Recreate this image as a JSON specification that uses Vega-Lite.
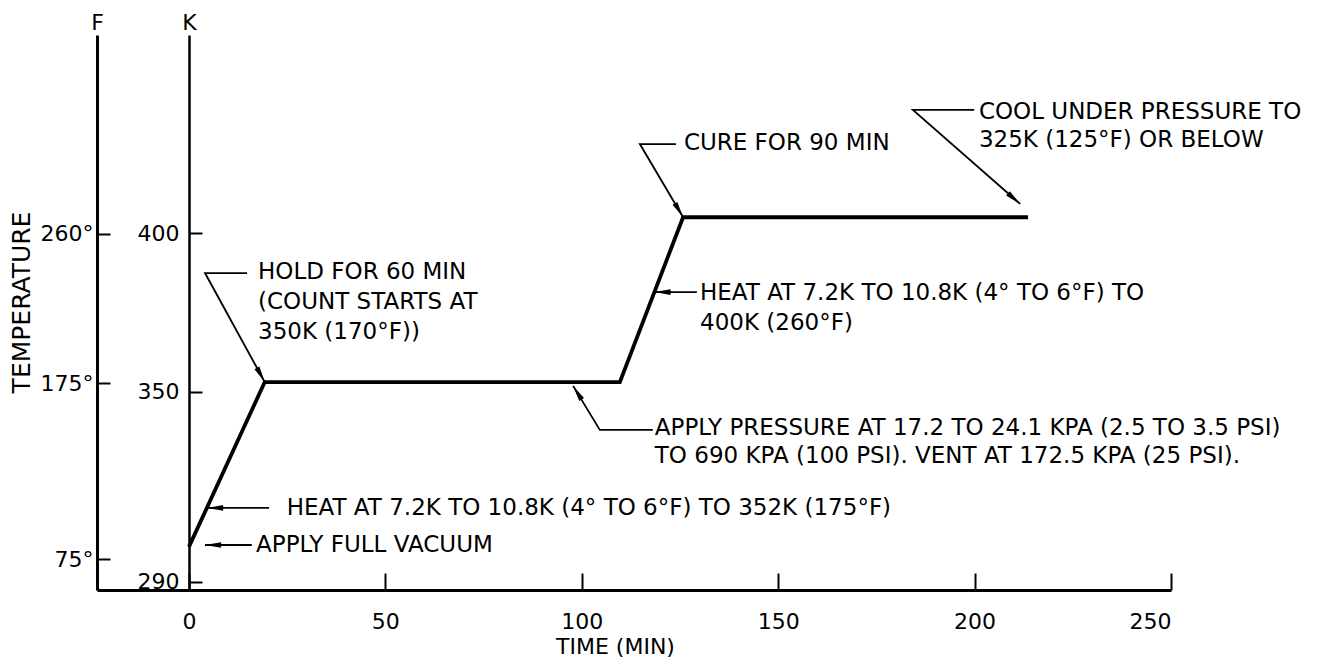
{
  "$schema": "https://vega.github.io/schema/vega-lite/v6.json",
  "width": 1074,
  "height": 555,
  "autosize": {"type": "none"},
  "padding": {"left": 97, "top": 35, "right": 168, "bottom": 68},
  "background": "white",
  "config": {
    "view": {"stroke": null},
    "font": "DejaVu Sans",
    "axis": {"grid": false, "domainColor": "black", "tickColor": "black", "labelColor": "black", "titleColor": "black", "labelFont": "DejaVu Sans", "titleFont": "DejaVu Sans", "titleFontWeight": "normal"}
  },
  "datasets": {
    "curve": [
      {"t": 0, "K": 301},
      {"t": 19.3, "K": 353},
      {"t": 109.7, "K": 353},
      {"t": 125.8, "K": 405},
      {"t": 213.6, "K": 405}
    ],
    "leaders": [
      {"id": "HOLD", "o": 1, "t": 14.8, "K": 387.4},
      {"id": "HOLD", "o": 2, "t": 4.1, "K": 387.4},
      {"id": "HOLD", "o": 3, "t": 19.3, "K": 353},
      {"id": "CURE", "o": 1, "t": 124.0, "K": 428.1},
      {"id": "CURE", "o": 2, "t": 114.8, "K": 428.1},
      {"id": "CURE", "o": 3, "t": 125.8, "K": 405},
      {"id": "COOL", "o": 1, "t": 199.9, "K": 438.9},
      {"id": "COOL", "o": 2, "t": 184.3, "K": 438.9},
      {"id": "COOL", "o": 3, "t": 211.6, "K": 409.2},
      {"id": "HEATU", "o": 1, "t": 129.3, "K": 381.4},
      {"id": "HEATU", "o": 2, "t": 118.5, "K": 381.4},
      {"id": "PRESS", "o": 1, "t": 118.1, "K": 337.9},
      {"id": "PRESS", "o": 2, "t": 104.6, "K": 337.9},
      {"id": "PRESS", "o": 3, "t": 97.8, "K": 351.8},
      {"id": "HEATL", "o": 1, "t": 20.4, "K": 313.3},
      {"id": "HEATL", "o": 2, "t": 4.6, "K": 313.3},
      {"id": "VAC", "o": 1, "t": 16.0, "K": 301.6},
      {"id": "VAC", "o": 2, "t": 4.1, "K": 301.6}
    ],
    "arrows": [
      {"id": "HOLD", "t": 19.3, "K": 353},
      {"id": "CURE", "t": 125.8, "K": 405},
      {"id": "COOL", "t": 211.6, "K": 409.2},
      {"id": "HEATU", "t": 118.5, "K": 381.4},
      {"id": "PRESS", "t": 97.8, "K": 351.8},
      {"id": "HEATL", "t": 4.6, "K": 313.3},
      {"id": "VAC", "t": 4.1, "K": 301.6}
    ],
    "notes": [
      {"t": 17.6, "K": 387.8, "label": "HOLD FOR 60 MIN"},
      {"t": 17.6, "K": 378.3, "label": "(COUNT STARTS AT"},
      {"t": 17.6, "K": 368.8, "label": "350K (170°F))"},
      {"t": 126.0, "K": 428.4, "label": "CURE FOR 90 MIN"},
      {"t": 201.1, "K": 438.2, "label": "COOL UNDER PRESSURE TO"},
      {"t": 201.1, "K": 429.4, "label": "325K (125°F) OR BELOW"},
      {"t": 130.1, "K": 381.1, "label": "HEAT AT 7.2K TO 10.8K (4° TO 6°F) TO"},
      {"t": 130.1, "K": 371.7, "label": "400K (260°F)"},
      {"t": 118.6, "K": 338.5, "label": "APPLY PRESSURE AT 17.2 TO 24.1 KPA (2.5 TO 3.5 PSI)"},
      {"t": 118.6, "K": 329.7, "label": "TO 690 KPA (100 PSI). VENT AT 172.5 KPA (25 PSI)."},
      {"t": 24.9, "K": 313.3, "label": "HEAT AT 7.2K TO 10.8K (4° TO 6°F) TO 352K (175°F)"},
      {"t": 17.1, "K": 301.6, "label": "APPLY FULL VACUUM"}
    ]
  },
  "resolve": {"axis": {"y": "independent"}},
  "layer": [
    {
      "data": {"name": "curve"},
      "mark": {"type": "line", "color": "black", "strokeWidth": 3.8, "strokeJoin": "miter", "strokeCap": "butt"},
      "encoding": {
        "x": {
          "field": "t", "type": "quantitative",
          "scale": {"domain": [-23.4, 250], "nice": false, "zero": false},
          "axis": {
            "title": "TIME (MIN)", "values": [0, 50, 100, 150, 200, 250],
            "domainWidth": 3, "tickWidth": 2, "tickSize": -17,
            "labelPadding": 48, "labelBaseline": "middle", "labelFontSize": 22,
            "titleFontSize": 22, "titleX": 518, "titleY": 56, "titleBaseline": "middle"
          }
        },
        "y": {
          "field": "K", "type": "quantitative",
          "scale": {"domain": [287.4, 462.5], "nice": false, "zero": false},
          "axis": {
            "orient": "left", "offset": -92, "values": [290, 350, 400],
            "domainWidth": 2.5, "tickWidth": 2, "tickSize": -13,
            "labelPadding": 23, "labelFontSize": 22, "labelBaseline": "middle",
            "title": "K", "titleAngle": 0, "titleX": 0, "titleY": -13,
            "titleAlign": "center", "titleBaseline": "middle", "titleFontSize": 22
          }
        }
      }
    },
    {
      "data": {"name": "leaders"},
      "mark": {"type": "line", "color": "black", "strokeWidth": 1.8},
      "encoding": {
        "x": {"field": "t", "type": "quantitative"},
        "y": {
          "field": "K", "type": "quantitative",
          "axis": {
            "orient": "left", "offset": 0, "values": [297.04, 352.59, 399.82],
            "labelExpr": "datum.value < 320 ? '75°' : (datum.value < 380 ? '175°' : '260°')",
            "domainWidth": 3, "tickWidth": 2, "tickSize": -13,
            "labelPadding": 17, "labelFontSize": 22, "labelBaseline": "middle",
            "title": "F", "titleAngle": 0, "titleX": 0, "titleY": -13,
            "titleAlign": "center", "titleBaseline": "middle", "titleFontSize": 22
          }
        },
        "detail": {"field": "id"},
        "order": {"field": "o", "type": "quantitative"}
      }
    },
    {
      "data": {"name": "arrows"},
      "transform": [{"filter": "datum.id == 'HEATU' || datum.id == 'HEATL' || datum.id == 'VAC'"}],
      "mark": {"type": "point", "shape": "M0,0L0.35,2L-0.35,2Z", "filled": true, "color": "black", "opacity": 1, "size": 260, "angle": 270},
      "encoding": {
        "x": {"field": "t", "type": "quantitative"},
        "y": {
          "field": "K", "type": "quantitative",
          "axis": {
            "orient": "left", "offset": 0, "domain": false, "ticks": false, "labels": false,
            "title": "TEMPERATURE", "titleX": -76, "titleY": 267, "titleAngle": -90,
            "titleAlign": "center", "titleBaseline": "middle", "titleFontSize": 25
          }
        }
      }
    },
    {
      "data": {"name": "arrows"},
      "transform": [{"filter": "datum.id == 'HOLD'"}],
      "mark": {"type": "point", "shape": "M0,0L0.35,2L-0.35,2Z", "filled": true, "color": "black", "opacity": 1, "size": 260, "angle": 151},
      "encoding": {
        "x": {"field": "t", "type": "quantitative"},
        "y": {"field": "K", "type": "quantitative", "axis": null}
      }
    },
    {
      "data": {"name": "arrows"},
      "transform": [{"filter": "datum.id == 'CURE'"}],
      "mark": {"type": "point", "shape": "M0,0L0.35,2L-0.35,2Z", "filled": true, "color": "black", "opacity": 1, "size": 260, "angle": 149.5},
      "encoding": {
        "x": {"field": "t", "type": "quantitative"},
        "y": {"field": "K", "type": "quantitative", "axis": null}
      }
    },
    {
      "data": {"name": "arrows"},
      "transform": [{"filter": "datum.id == 'COOL'"}],
      "mark": {"type": "point", "shape": "M0,0L0.35,2L-0.35,2Z", "filled": true, "color": "black", "opacity": 1, "size": 260, "angle": 131},
      "encoding": {
        "x": {"field": "t", "type": "quantitative"},
        "y": {"field": "K", "type": "quantitative", "axis": null}
      }
    },
    {
      "data": {"name": "arrows"},
      "transform": [{"filter": "datum.id == 'PRESS'"}],
      "mark": {"type": "point", "shape": "M0,0L0.35,2L-0.35,2Z", "filled": true, "color": "black", "opacity": 1, "size": 260, "angle": 328},
      "encoding": {
        "x": {"field": "t", "type": "quantitative"},
        "y": {"field": "K", "type": "quantitative", "axis": null}
      }
    },
    {
      "data": {"name": "notes"},
      "mark": {"type": "text", "align": "left", "baseline": "middle", "font": "DejaVu Sans", "fontSize": 23, "color": "black"},
      "encoding": {
        "x": {"field": "t", "type": "quantitative"},
        "y": {"field": "K", "type": "quantitative", "axis": null},
        "text": {"field": "label"}
      }
    }
  ]
}
